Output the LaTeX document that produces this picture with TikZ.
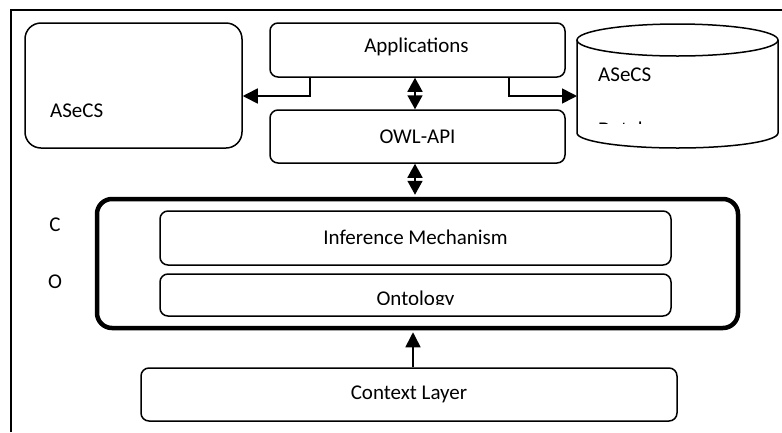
\documentclass[tikz,border=0pt]{standalone}
\usepackage{fontspec}
\setmainfont{Carlito}
\usetikzlibrary{arrows.meta,calc}
\begin{document}
\begin{tikzpicture}[x=1pt,y=-1pt,
  font=\fontsize{21}{25}\selectfont,
  box/.style={draw,line width=1.5pt,rounded corners=8pt,inner sep=0pt,minimum height=#1},
  box/.default=54pt,
  arr/.style={line width=1.6pt,-{Triangle[length=15pt,width=15pt]}},
  darr/.style={line width=1.6pt,{Triangle[length=14pt,width=15pt]}-{Triangle[length=14pt,width=15pt]}},
  lbl/.style={inner sep=0pt,anchor=west}]
\useasboundingbox (0,0) rectangle (782,432);
% frame
\draw[line width=1.5pt] (11,432) -- (11,10) -- (782,10);
% left ASeCS box
\node[box=125pt,rounded corners=16pt,minimum width=217pt] (asecsL) at (133.5,85.5) {};
\node[lbl] (asecsLt) at (50,111) {ASeCS};
% applications and OWL-API
\node[box,minimum width=295pt] (app) at (417.5,50) {};
\node (appt) at (416.5,47) {Applications};
\node[box=53pt,minimum width=295pt] (owl) at (417.5,136.5) {};
\node (owlt) at (417.5,137) {OWL-API};
% cylinder
\draw[line width=1.5pt] (577,40) -- (577,133) arc[start angle=180,end angle=0,x radius=100.5,y radius=15] -- (778,40);
\draw[line width=1.5pt] (677.5,40) ellipse [x radius=100.5, y radius=16];
\coordinate (cylL) at (577,96);
\node[lbl] (asecsR) at (598,75) {ASeCS};
\begin{scope}
\clip (580,100) rectangle (775,123);
\node[lbl] (dbt) at (598,129) {Database};
\end{scope}
% core box
\node[draw,line width=4.5pt,rounded corners=15pt,minimum width=641pt,minimum height=129pt,inner sep=0pt] (big) at (417.5,263.5) {};
\node[box,minimum width=511pt] (inf) at (415.5,238) {};
\node (inft) at (415.5,237) {Inference Mechanism};
\node[box=42pt,minimum width=511pt] (ont) at (415.5,295) {};
\begin{scope}
\clip (162,280) rectangle (669,304);
\node (ontt) at (415.5,300) {Ontology};
\end{scope}
\node (cl) at (55,225) {C};
\node (ol) at (55,282) {O};
% context layer
\node[box=53pt,minimum width=536pt] (ctx) at (409,394.5) {};
\node (ctxt) at (409,394) {Context Layer};
% connectors
\draw[arr] ($(app.south west)+(41,0)$) |- ($(asecsL.east)+(0,10.5)$);
\draw[arr] ($(app.south west)+(240,0)$) |- (cylL);
\draw[darr] ($(app.south)+(-2.5,0)$) -- ($(owl.north)+(-2.5,0)$);
\draw[darr] ($(owl.south)+(-2.5,0)$) -- ($(big.north)+(-2.5,-2)$);
\draw[arr] ($(ctx.north)+(4,0)$) -- ($(big.south)+(-4.5,2)$);
\end{tikzpicture}
\end{document}
